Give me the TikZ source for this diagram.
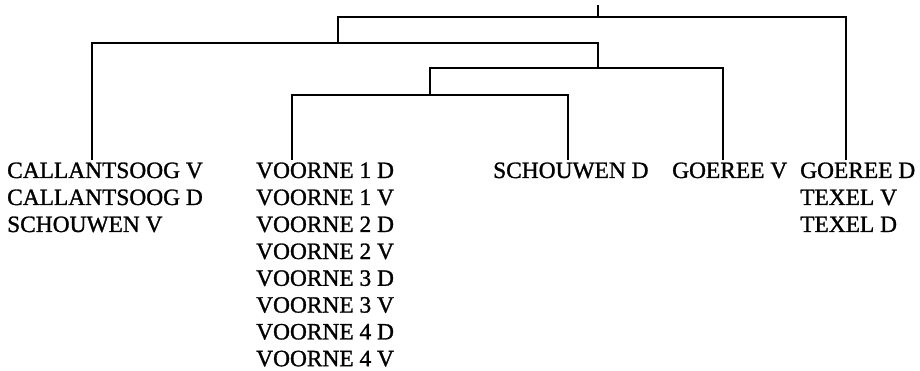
\documentclass[tikz,border=0pt]{standalone}
\usepackage{fontspec}
\setmainfont{Liberation Serif}
\newfontfamily\lblfont[FakeBold=1.2]{Liberation Serif}
\begin{document}
\begin{tikzpicture}[x=1pt,y=-1pt,
  lbl/.style={anchor=base west, inner sep=0pt, text depth=0pt, font=\lblfont\fontsize{23.4}{27}\selectfont},
  branch/.style={line width=2.2pt, line join=miter}]
\useasboundingbox (0,0) rectangle (920,371);
% labels
\node[lbl] (c1a) at (7,178) {CALLANTSOOG V};
\node[lbl] (c1b) at (7,205) {CALLANTSOOG D};
\node[lbl] (c1c) at (7,232) {SCHOUWEN V};
\node[lbl] (v1d) at (256,178) {VOORNE 1 D};
\node[lbl] (v1v) at (256,205) {VOORNE 1 V};
\node[lbl] (v2d) at (256,232) {VOORNE 2 D};
\node[lbl] (v2v) at (256,259) {VOORNE 2 V};
\node[lbl] (v3d) at (256,285.8) {VOORNE 3 D};
\node[lbl] (v3v) at (256,312.6) {VOORNE 3 V};
\node[lbl] (v4d) at (256,339.4) {VOORNE 4 D};
\node[lbl] (v4v) at (256,366.2) {VOORNE 4 V};
\node[lbl] (sd) at (493,178) {SCHOUWEN D};
\node[lbl] (gv) at (672,178) {GOEREE V};
\node[lbl] (gd) at (800,178) {GOEREE D};
\node[lbl] (tv) at (800,205) {TEXEL V};
\node[lbl] (td) at (800,232) {TEXEL D};
% tree coordinates
\coordinate (top) at (598,5);
\coordinate (hRoot) at (598,17.3);
\coordinate (hA) at (338,17.3);
\coordinate (bA) at (338,43.3);
\coordinate (hB) at (598,43.3);
\coordinate (bB) at (598,68.3);
\coordinate (hC) at (430,68.3);
\coordinate (bC) at (430,95);
\coordinate (cR) at (568,95);
\coordinate (l1) at (92,160);
\coordinate (l2) at (292,160);
\coordinate (l3) at (568,160);
\coordinate (l4) at (723,160);
\coordinate (l5) at (846,160);
% tree
\draw[branch] (top) -- (hRoot);
\draw[branch] (bA) -- (hA) -| (l5);
\draw[branch] (l1) |- (hB) -- (bB);
\draw[branch] (bC) -- (hC) -| (l4);
\draw[branch] (l2) |- (cR) -- (l3);
\end{tikzpicture}
\end{document}
